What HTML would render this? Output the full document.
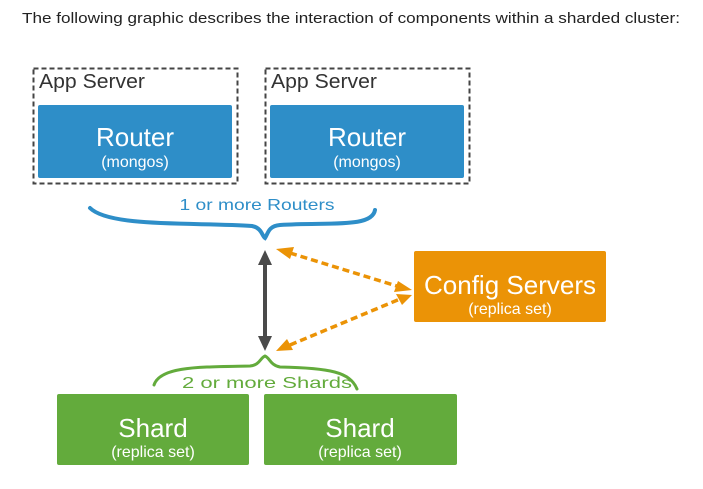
<!DOCTYPE html>
<html><head><style>
body{margin:0;background:#fff;width:703px;height:484px;overflow:hidden;font-family:"Liberation Sans",sans-serif}
</style></head><body>
<svg width="703" height="484" xmlns="http://www.w3.org/2000/svg" font-family="Liberation Sans, sans-serif">
<text x="22" y="23" font-size="15" fill="#222" textLength="658" lengthAdjust="spacingAndGlyphs">The following graphic describes the interaction of components within a sharded cluster:</text>
<rect x="33.5" y="68.5" width="204" height="115" fill="none" stroke="#444" stroke-width="2" stroke-dasharray="5,3"/>
<rect x="265.5" y="68.5" width="204" height="115" fill="none" stroke="#444" stroke-width="2" stroke-dasharray="5,3"/>
<text x="39" y="88" font-size="20" fill="#333" textLength="106" lengthAdjust="spacingAndGlyphs">App Server</text>
<text x="271" y="88" font-size="20" fill="#333" textLength="106" lengthAdjust="spacingAndGlyphs">App Server</text>
<rect x="38" y="105" width="194" height="73" rx="2" fill="#2e8ec8"/>
<rect x="270" y="105" width="194" height="73" rx="2" fill="#2e8ec8"/>
<g fill="#fff" text-anchor="middle">
<text x="135" y="146" font-size="26">Router</text><text x="135" y="167" font-size="16">(mongos)</text>
<text x="367" y="146" font-size="26">Router</text><text x="367" y="167" font-size="16">(mongos)</text>
</g>
<text x="257" y="210" font-size="16" fill="#2e8ec8" text-anchor="middle" textLength="155" lengthAdjust="spacingAndGlyphs">1 or more Routers</text>
<path d="M90,208 C110,228 200,222 252,226 C262,228 262,236 265,238 C268,234 268,226 280,225 C330,222 372,228 375,210" fill="none" stroke="#2e8ec8" stroke-width="4" stroke-linecap="round"/>
<rect x="414" y="251" width="192" height="71" rx="2" fill="#eb9306"/>
<g fill="#fff" text-anchor="middle">
<text x="510" y="294" font-size="26" textLength="172" lengthAdjust="spacingAndGlyphs">Config Servers</text><text x="510" y="314" font-size="16">(replica set)</text>
</g>
<line x1="265" y1="262" x2="265" y2="338" stroke="#4a4a4a" stroke-width="4"/>
<polygon points="265,250 258,265 272,265" fill="#4a4a4a"/>
<polygon points="265,351 258,336 272,336" fill="#4a4a4a"/>
<g stroke="#eb9306" stroke-width="3.5" stroke-dasharray="7,4">
<line x1="290" y1="253" x2="400" y2="287"/>
<line x1="290" y1="345" x2="400" y2="299"/>
</g>
<g fill="#eb9306">
<polygon points="276,249 294,247 290,259"/>
<polygon points="412,290 394,292 398,281"/>
<polygon points="276,351 287,339 293,350"/>
<polygon points="412,295 396,294 402,305"/>
</g>
<path d="M154,385 C160,366 200,367 250,366 C260,365 260,358 265,356 C270,358 270,365 280,367 C330,368 350,372 357,389" fill="none" stroke="#63ab3c" stroke-width="3" stroke-linecap="round"/>
<text x="267" y="388" font-size="16" fill="#63ab3c" text-anchor="middle" textLength="170" lengthAdjust="spacingAndGlyphs">2 or more Shards</text>
<rect x="57" y="394" width="192" height="71" rx="2" fill="#63ab3c"/>
<rect x="264" y="394" width="193" height="71" rx="2" fill="#63ab3c"/>
<g fill="#fff" text-anchor="middle">
<text x="153" y="437" font-size="26">Shard</text><text x="153" y="457" font-size="16">(replica set)</text>
<text x="360" y="437" font-size="26">Shard</text><text x="360" y="457" font-size="16">(replica set)</text>
</g>
</svg>
</body></html>
